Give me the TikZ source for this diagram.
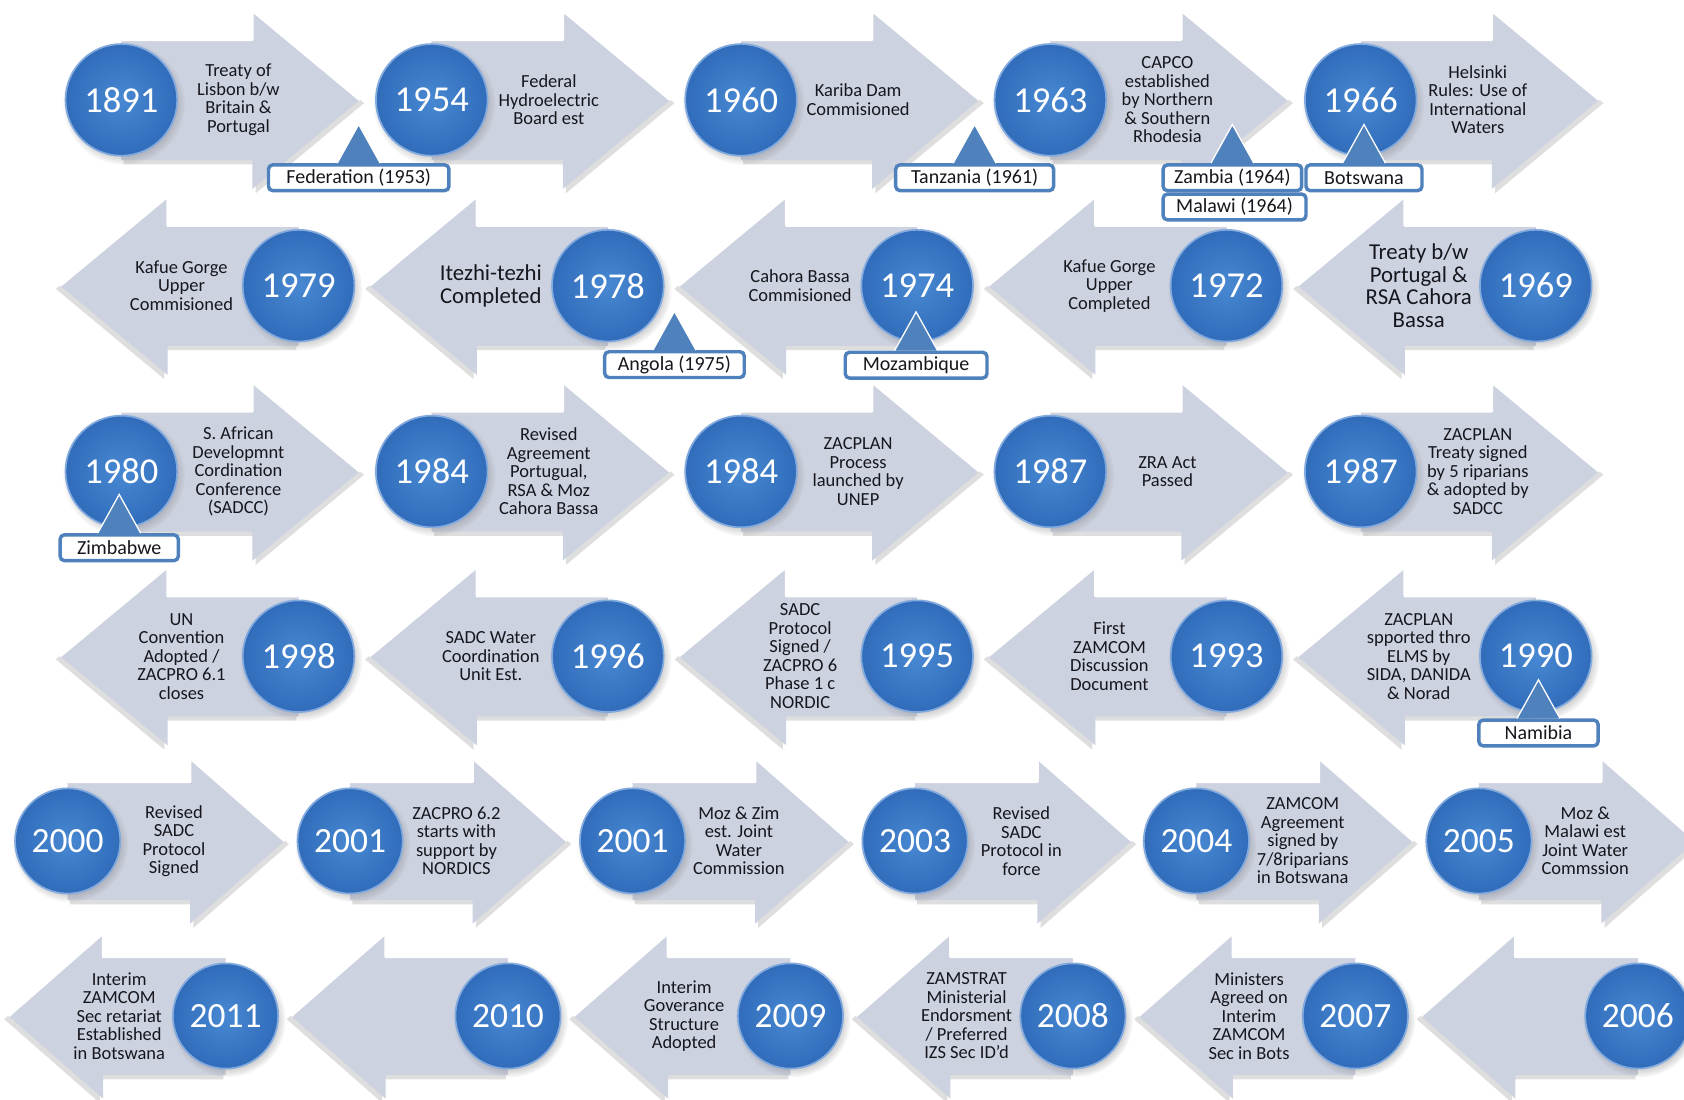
\documentclass[tikz,border=0pt]{standalone}
\usepackage{fontspec}
\setmainfont{Carlito}
\usetikzlibrary{shadows}

\definecolor{arrowfill}{RGB}{205,210,224}
\definecolor{ballin}{RGB}{72,136,210}
\definecolor{ballout}{RGB}{48,108,186}
\definecolor{ballrim}{RGB}{130,170,222}
\definecolor{tagblue}{RGB}{79,129,189}
\definecolor{evink}{RGB}{22,22,30}

\tikzstyle{yearball} = [circle, minimum size=52pt, inner sep=0pt, draw=ballrim, line width=0.8pt, inner color=ballin, outer color=ballout, text=white, font=\fontsize{17}{17}\selectfont, circular drop shadow={shadow xshift=1pt, shadow yshift=-1.5pt, opacity=0.35}]
\tikzstyle{yearballsm} = [yearball, minimum size=49pt, font=\fontsize{16.5}{16.5}\selectfont]
\tikzstyle{evtext} = [align=center, text=evink, inner sep=0pt, font=\fontsize{8.6}{8.6}\selectfont]
\tikzstyle{evbig} = [evtext, font=\fontsize{10.6}{10.6}\selectfont]
\tikzstyle{arrowbody} = [fill=arrowfill]
\tikzstyle{arrowshade} = [fill=black, opacity=0.13]
\tikzstyle{arrowshine} = [draw=white, line width=1.2pt, line join=round]
\tikzstyle{tagbox} = [draw=tagblue, line width=1.6pt, fill=white, rounded corners=2pt, minimum height=12pt, inner sep=0pt, text=evink, font=\fontsize{9.3}{9.3}\selectfont]
\tikzstyle{tagtri} = [fill=tagblue]
\tikzstyle{tagedge} = [draw=white, line width=0.6pt, line join=miter]

\begin{document}
\begin{tikzpicture}[x=0.5pt, y=-0.5pt]
  \useasboundingbox (0,0) rectangle (1568,1024);
  \fill[white] (0,0) rectangle (1568,1024);
  % upper rows
  \foreach \name/\cx/\cy/\dir/\yr/\fs/\txt in {
    y1891/113/93/1/1891/evtext/{Treaty of\\Lisbon b/w\\Britain \&\\Portugal},
    y1954/402/93/1/1954/evtext/{Federal\\Hydroelectric\\Board est},
    y1960/690/93/1/1960/evtext/{Kariba Dam\\Commisioned},
    y1963/978/93/1/1963/evtext/{CAPCO\\established\\by Northern\\\& Southern\\Rhodesia},
    y1966/1267/93/1/1966/evtext/{Helsinki\\Rules: Use of\\International\\Waters},
    y1979/278/266/-1/1979/evtext/{Kafue Gorge\\Upper\\Commisioned},
    y1978/566/266/-1/1978/evbig/{Itezhi-tezhi\\Completed},
    y1974/854/266/-1/1974/evtext/{Cahora Bassa\\Commisioned},
    y1972/1142/266/-1/1972/evtext/{Kafue Gorge\\Upper\\Completed},
    y1969/1430/266/-1/1969/evbig/{Treaty b/w\\Portugal \&\\RSA Cahora\\Bassa},
    y1980/113/439/1/1980/evtext/{S. African\\Developmnt\\Cordination\\Conference\\(SADCC)},
    y1984a/402/439/1/1984/evtext/{Revised\\Agreement\\Portugual,\\RSA \& Moz\\Cahora Bassa},
    y1984b/690/439/1/1984/evtext/{ZACPLAN\\Process\\launched by\\UNEP},
    y1987a/978/439/1/1987/evtext/{ZRA Act\\Passed},
    y1987b/1267/439/1/1987/evtext/{ZACPLAN\\Treaty signed\\by 5 riparians\\\& adopted by\\SADCC},
    y1998/278/611/-1/1998/evtext/{UN\\Convention\\Adopted /\\ZACPRO 6.1\\closes},
    y1996/566/611/-1/1996/evtext/{SADC Water\\Coordination\\Unit Est.},
    y1995/854/611/-1/1995/evtext/{SADC\\Protocol\\Signed /\\ZACPRO 6\\Phase 1 c\\NORDIC},
    y1993/1142/611/-1/1993/evtext/{First\\ZAMCOM\\Discussion\\Document},
    y1990/1430/611/-1/1990/evtext/{ZACPLAN\\spported thro\\ELMS by\\SIDA, DANIDA\\\& Norad}}
  {
    \begin{scope}[shift={(\cx,\cy)}, xscale=\dir]
      \fill[arrowshade] (2,-52) -- (125,-52) -- (125,-80) -- (226,3) -- (125,87) -- (125,60) -- (2,60) -- cycle;
      \fill[arrowbody] (0,-56) -- (122,-56) -- (122,-83) -- (222,0) -- (122,83) -- (122,56) -- (0,56) -- cycle;
      \draw[arrowshine] (0,-56) -- (122,-56) -- (122,-83) -- (222,0);
    \end{scope}
    \node[yearball] (\name) at (\cx,\cy) {\yr};
    \node[\fs] (t\name) at ({\cx+109*\dir},\cy) {\txt};
  }
  % lower rows
  \foreach \name/\cx/\cy/\dir/\yr/\txt in {
    y2000/63/783/1/2000/{Revised\\SADC\\Protocol\\Signed},
    y2001a/326/783/1/2001/{ZACPRO 6.2\\starts with\\support by\\NORDICS},
    y2001b/589/783/1/2001/{Moz \& Zim\\est. Joint\\Water\\Commission},
    y2003/852/783/1/2003/{Revised\\SADC\\Protocol in\\force},
    y2004/1114/783/1/2004/{ZAMCOM\\Agreement\\signed by\\7/8riparians\\in Botswana},
    y2005/1377/783/1/2005/{Moz \&\\Malawi est\\Joint Water\\Commssion},
    y2011/210/946/-1/2011/{Interim\\ZAMCOM\\Sec retariat\\Established\\in Botswana},
    y2010/473/946/-1/2010/{},
    y2009/736/946/-1/2009/{Interim\\Goverance\\Structure\\Adopted},
    y2008/999/946/-1/2008/{ZAMSTRAT\\Ministerial\\Endorsment\\/ Preferred\\IZS Sec ID'd},
    y2007/1262/946/-1/2007/{Ministers\\Agreed on\\Interim\\ZAMCOM\\Sec in Bots},
    y2006/1525/946/-1/2006/{}}
  {
    \begin{scope}[shift={(\cx,\cy)}, xscale=\dir]
      \fill[arrowshade] (2,-51) -- (117,-51) -- (117,-74) -- (206,3) -- (117,81) -- (117,59) -- (2,59) -- cycle;
      \fill[arrowbody] (0,-55) -- (114,-55) -- (114,-77) -- (202,0) -- (114,77) -- (114,55) -- (0,55) -- cycle;
      \draw[arrowshine] (0,-55) -- (114,-55) -- (114,-77) -- (202,0);
    \end{scope}
    \node[yearballsm] (\name) at (\cx,\cy) {\yr};
    \node[evtext] (t\name) at ({\cx+99*\dir},\cy) {\txt};
  }
  % country tags
  \foreach \name/\x/\y/\w/\txt in {
    fed/334/165.5/84/{Federation (1953)},
    tan/907.5/165.5/73.5/{Tanzania (1961)},
    zam/1147.5/165.5/64.5/{Zambia (1964)},
    bot/1270/165.5/54/Botswana,
    ang/628/339.5/65/{Angola (1975)},
    moz/853/340/66/Mozambique,
    zim/111/510/55/Zimbabwe,
    nam/1432.5/682.5/55.5/Namibia}
  {
    \node[tagbox, minimum width=\w pt] (\name) at (\x,\y) {\txt};
    \fill[tagtri] ([xshift=-10pt]\name.north) -- ([yshift=18pt]\name.north) -- ([xshift=10pt]\name.north) -- cycle;
    \draw[tagedge] ([xshift=-10pt]\name.north) -- ([yshift=18pt]\name.north) -- ([xshift=10pt]\name.north);
  }
  \node[tagbox, minimum width=66.5pt, anchor=north west] (mal) at (zam.south west) {Malawi (1964)};
\end{tikzpicture}
\end{document}
